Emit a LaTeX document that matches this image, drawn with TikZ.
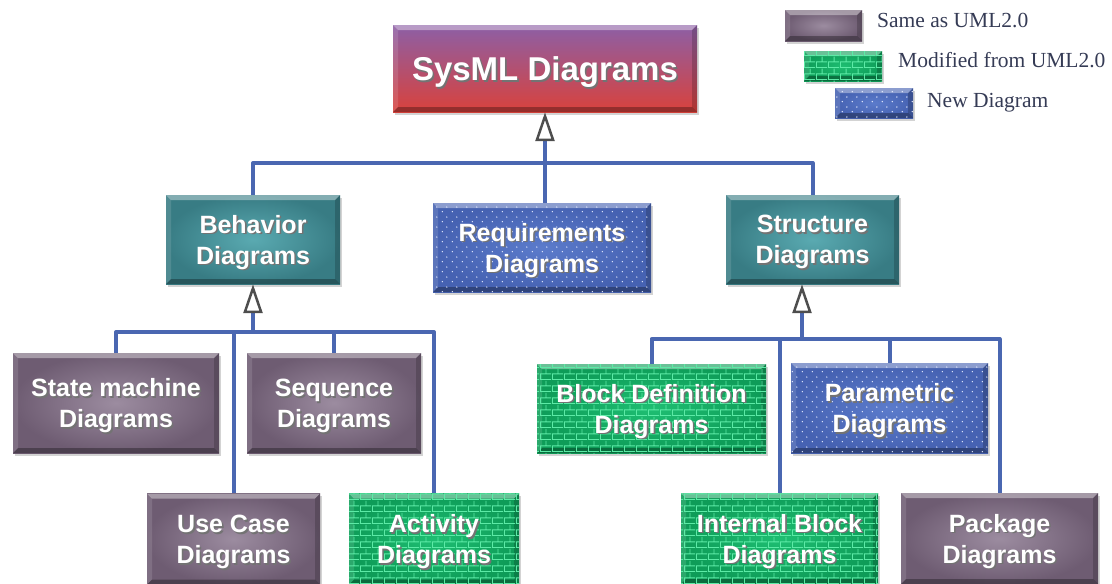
\documentclass[tikz,border=0pt]{standalone}
\usepackage{fontspec}
\setmainfont{Liberation Serif}
\newfontfamily\boxfont{Liberation Sans}
\usetikzlibrary{shadows,patterns,arrows.meta,calc}

% palette
\definecolor{busblue}{HTML}{4A67B1}
\definecolor{tipgray}{HTML}{4E4E4E}
\definecolor{legendtext}{HTML}{353B55}
\definecolor{sameIn}{HTML}{9C8CA0}
\definecolor{sameOut}{HTML}{6E5C72}
\definecolor{tealIn}{HTML}{5AAAB1}
\definecolor{tealOut}{HTML}{387C84}
\definecolor{newIn}{HTML}{5B7BCB}
\definecolor{newOut}{HTML}{4662B2}
\definecolor{newDot}{HTML}{E6ECFF}
\definecolor{modIn}{HTML}{1EBE72}
\definecolor{modOut}{HTML}{0E9C58}
\definecolor{modLine}{HTML}{5CEAA6}
\definecolor{sysTop}{HTML}{8C5FA6}
\definecolor{sysBottom}{HTML}{D9423C}

% brick wall tile
\pgfdeclarepatternformonly{brickwall}{\pgfpointorigin}{\pgfqpoint{12pt}{12pt}}{\pgfqpoint{12pt}{12pt}}{
  \pgfsetlinewidth{1pt}
  \pgfpathmoveto{\pgfqpoint{0pt}{0.5pt}}\pgfpathlineto{\pgfqpoint{12pt}{0.5pt}}
  \pgfpathmoveto{\pgfqpoint{0pt}{6.5pt}}\pgfpathlineto{\pgfqpoint{12pt}{6.5pt}}
  \pgfpathmoveto{\pgfqpoint{0.5pt}{0.5pt}}\pgfpathlineto{\pgfqpoint{0.5pt}{6.5pt}}
  \pgfpathmoveto{\pgfqpoint{6.5pt}{6.5pt}}\pgfpathlineto{\pgfqpoint{6.5pt}{12pt}}
  \pgfusepath{stroke}
}
% staggered dot grid tile
\pgfdeclarepatternformonly{dotgrid}{\pgfpointorigin}{\pgfqpoint{10pt}{10pt}}{\pgfqpoint{10pt}{10pt}}{
  \pgfpathcircle{\pgfqpoint{2.5pt}{2.5pt}}{0.8pt}
  \pgfpathcircle{\pgfqpoint{7.5pt}{7.5pt}}{0.8pt}
  \pgfusepath{fill}
}

% white label with a dark offset copy behind it
\newcommand\sh[1]{\leavevmode\rlap{\hspace{1.6pt}\raisebox{-1.8pt}{\color{black!55}#1}}#1}

\tikzset{
  bevel/.style={path picture={
    \fill[white,opacity=.38] (path picture bounding box.north west) -- (path picture bounding box.north east)
      -- ([shift={(-5pt,-5pt)}]path picture bounding box.north east) -- ([shift={(5pt,-5pt)}]path picture bounding box.north west) -- cycle;
    \fill[white,opacity=.12] (path picture bounding box.north west) -- (path picture bounding box.south west)
      -- ([shift={(5pt,5pt)}]path picture bounding box.south west) -- ([shift={(5pt,-5pt)}]path picture bounding box.north west) -- cycle;
    \fill[black,opacity=.30] (path picture bounding box.south west) -- (path picture bounding box.south east)
      -- ([shift={(-5pt,5pt)}]path picture bounding box.south east) -- ([shift={(5pt,5pt)}]path picture bounding box.south west) -- cycle;
    \fill[black,opacity=.18] (path picture bounding box.north east) -- (path picture bounding box.south east)
      -- ([shift={(-5pt,5pt)}]path picture bounding box.south east) -- ([shift={(-5pt,-5pt)}]path picture bounding box.north east) -- cycle;
  }},
  basebox/.style={rectangle, inner sep=0pt, align=center, text=white, text depth=0pt,
    font=\boxfont\bfseries\fontsize{25}{31}\selectfont,
    drop shadow={shadow xshift=2pt, shadow yshift=-2.5pt, opacity=.35}, bevel},
  topbox/.style={basebox, top color=sysTop, bottom color=sysBottom,
    font=\boxfont\bfseries\fontsize{33}{40}\selectfont},
  groupbox/.style={basebox, inner color=tealIn, outer color=tealOut},
  samebox/.style={basebox, inner color=sameIn, outer color=sameOut},
  modbox/.style={basebox, inner color=modIn, outer color=modOut,
    postaction={pattern=brickwall, pattern color=modLine}},
  newbox/.style={basebox, inner color=newIn, outer color=newOut,
    postaction={pattern=dotgrid, pattern color=newDot}},
  legendtext/.style={anchor=base west, inner sep=0pt, text=legendtext,
    font=\fontsize{21.5}{24}\selectfont},
  conn/.style={draw=busblue, line width=4pt, line join=round},
  gen/.style={-{Triangle[length=29pt, width=19pt, fill=white, color=tipgray, line width=2.5pt]}},
}

\begin{document}
\begin{tikzpicture}[x=1pt, y=-1pt]
\useasboundingbox (0,0) rectangle (1112,584);

% root and first level
\node[topbox, minimum width=304pt, minimum height=87pt] (sysml) at (545,68.5) {\sh{SysML Diagrams}};
\node[groupbox, minimum width=174pt, minimum height=89pt] (behav) at (253,239.5) {\sh{Behavior}\\\sh{Diagrams}};
\node[newbox, minimum width=218pt, minimum height=89pt] (req) at (542,247.5) {\sh{Requirements}\\\sh{Diagrams}};
\node[groupbox, minimum width=173pt, minimum height=89pt] (struct) at (812.5,239.5) {\sh{Structure}\\\sh{Diagrams}};

% behaviour diagrams
\node[samebox, minimum width=206pt, minimum height=100pt] (sm) at (116,403) {\sh{State machine}\\\sh{Diagrams}};
\node[samebox, minimum width=174pt, minimum height=100pt] (seq) at (334,403) {\sh{Sequence}\\\sh{Diagrams}};
\node[samebox, minimum width=173pt, minimum height=91pt] (uc) at (233.5,539) {\sh{Use Case}\\\sh{Diagrams}};
\node[modbox, minimum width=170pt, minimum height=91pt] (act) at (434,539) {\sh{Activity}\\\sh{Diagrams}};

% structure diagrams
\node[modbox, minimum width=229pt, minimum height=89pt] (bdd) at (651.5,408.5) {\sh{Block Definition}\\\sh{Diagrams}};
\node[newbox, minimum width=197pt, minimum height=90pt] (par) at (889.5,408) {\sh{Parametric}\\\sh{Diagrams}};
\node[modbox, minimum width=197pt, minimum height=91pt] (ibd) at (779.5,538.5) {\sh{Internal Block}\\\sh{Diagrams}};
\node[samebox, minimum width=197pt, minimum height=91pt] (pkg) at (999.5,538.5) {\sh{Package}\\\sh{Diagrams}};

% legend
\node[samebox, minimum width=77pt, minimum height=31pt] (lsame) at (823.5,25.5) {};
\node[modbox, minimum width=78pt, minimum height=30pt] (lmod) at (843,66) {};
\node[newbox, minimum width=78pt, minimum height=30pt] (lnew) at (874,103) {};
\node[legendtext] (tsame) at (877,27) {Same as UML2.0};
\node[legendtext] (tmod) at (898,67) {Modified from UML2.0};
\node[legendtext] (tnew) at (927,107) {New Diagram};

% junction points of the generalization trees
\coordinate (hubtop) at (545,163);
\coordinate (hubbeh) at (253,332);
\coordinate (hubstr) at (802,339);

% first level to root
\draw[conn] (behav.north) |- (hubtop) -| (struct.north);
\draw[conn] (hubtop) -- (hubtop |- req.north);
\draw[conn, gen] (hubtop) -- (sysml.south -| hubtop);

% behaviour tree
\draw[conn] (sm.north) |- (hubbeh) -| (act.north);
\draw[conn] (uc.north) |- (hubbeh);
\draw[conn] (seq.north) |- (hubbeh);
\draw[conn, gen] (hubbeh) -- (behav.south);

% structure tree
\draw[conn] (bdd.north) |- (hubstr) -| (pkg.north);
\draw[conn] (ibd.north) |- (hubstr);
\draw[conn] (par.north) |- (hubstr);
\draw[conn, gen] (hubstr) -- (hubstr |- struct.south);
\end{tikzpicture}
\end{document}
